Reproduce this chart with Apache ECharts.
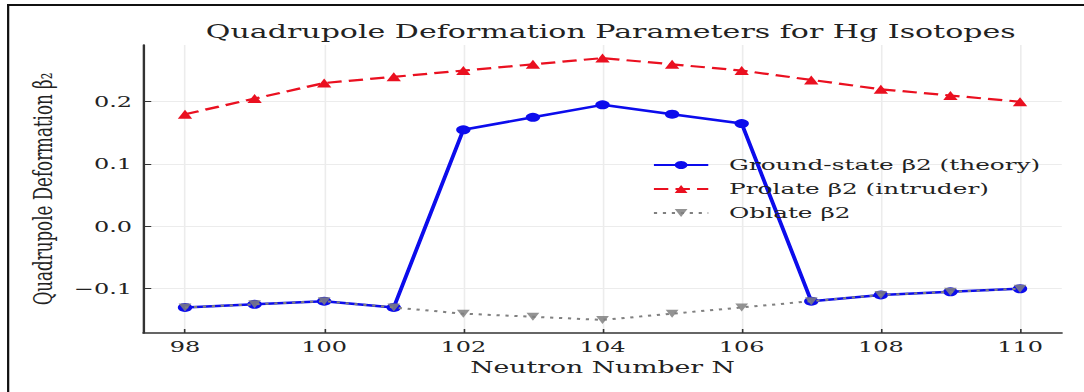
<!DOCTYPE html>
<html>
<head>
<meta charset="utf-8">
<script src="https://cdn.jsdelivr.net/npm/echarts@6/dist/echarts.min.js"></script>
<style>
  html, body { margin: 0; padding: 0; background: #fff; overflow: hidden; }
  /* the figure is laid out at a narrower width and widened horizontally */
  #chart { width: 678px; height: 392px; transform: scaleX(1.59882); transform-origin: 0 0; }
</style>
</head>
<body>
<div id="chart"></div>
<script>
// Neutron numbers of the Hg isotopes
const neutronN = [98, 99, 100, 101, 102, 103, 104, 105, 106, 107, 108, 109, 110];
// Ground-state quadrupole deformation (theory)
const groundBeta2 = [-0.13, -0.125, -0.12, -0.13, 0.155, 0.175, 0.195, 0.18, 0.165, -0.12, -0.11, -0.105, -0.10];
// Prolate (intruder) configuration
const prolateBeta2 = [0.18, 0.205, 0.23, 0.24, 0.25, 0.26, 0.27, 0.26, 0.25, 0.235, 0.22, 0.21, 0.20];
// Oblate configuration
const oblateBeta2 = [-0.13, -0.125, -0.12, -0.13, -0.14, -0.145, -0.15, -0.14, -0.13, -0.12, -0.11, -0.105, -0.10];
// Tick positions
const xTicks = [98, 100, 102, 104, 106, 108, 110];
const yTicks = [-0.1, 0.0, 0.1, 0.2];
const seriesNames = ['Ground-state β2 (theory)', 'Prolate β2 (intruder)', 'Oblate β2'];

const FONT = 'DejaVu Serif';
const pairs = ys => neutronN.map((n, i) => [n, ys[i]]);

const chart = echarts.init(document.getElementById('chart'), null, { renderer: 'svg' });

chart.setOption({
  animation: false,
  backgroundColor: '#ffffff',
  title: {
    text: 'Quadrupole Deformation Parameters for Hg Isotopes',
    left: 377, top: 17, textAlign: 'center',
    textStyle: { fontFamily: FONT, fontSize: 18.8, fontWeight: 'normal', color: '#222' }
  },
  graphic: [
    { type: 'rect', shape: { x: 4.4, y: 4, width: 1.4, height: 400 }, style: { fill: '#111' }, silent: true },
    { type: 'rect', shape: { x: 4.4, y: 4, width: 700, height: 2 }, style: { fill: '#111' }, silent: true }
  ],
  legend: {
    orient: 'vertical',
    left: 403, top: 152,
    itemWidth: 34, itemHeight: 10, itemGap: 8,
    data: seriesNames,
    textStyle: { fontFamily: FONT, fontSize: 15.5, color: '#222', padding: [0, 0, 0, 8] }
  },
  grid: { left: 89.6, right: 13.9, top: 45, bottom: 59, containLabel: false },
  xAxis: {
    type: 'value',
    min: 97.4, max: 110.6,
    name: 'Neutron Number N',
    nameLocation: 'middle', nameGap: 25,
    nameTextStyle: { fontFamily: FONT, fontSize: 16.7, color: '#222' },
    axisLine: { show: true, onZero: false, lineStyle: { color: '#333', width: 1.5 } },
    axisTick: { show: true, inside: true, length: 4, customValues: xTicks, lineStyle: { color: '#333', width: 1 } },
    axisLabel: { customValues: xTicks, margin: 6, fontFamily: FONT, fontSize: 15, color: '#222',
                 formatter: v => String(v) },
    splitLine: { show: true, lineStyle: { color: '#ececec', width: 1 } }
  },
  yAxis: {
    type: 'value',
    min: -0.171, max: 0.291,
    name: 'Quadrupole Deformation β₂',
    nameLocation: 'middle', nameGap: 50,
    nameTextStyle: { fontFamily: FONT, fontSize: 16.7, color: '#222' },
    axisLine: { show: true, onZero: false, lineStyle: { color: '#333', width: 1.5 } },
    axisTick: { show: true, inside: true, length: 5, customValues: yTicks, lineStyle: { color: '#333', width: 1 } },
    axisLabel: { customValues: yTicks, margin: 7, fontFamily: FONT, fontSize: 15, color: '#222',
                 formatter: v => v.toFixed(1).replace('-', '\u2212') },
    splitLine: { show: true, lineStyle: { color: '#ececec', width: 1 } }
  },
  series: [
    {
      name: seriesNames[0], type: 'line', data: pairs(groundBeta2), z: 2,
      symbol: 'circle', symbolSize: 9,
      lineStyle: { color: '#0c0cec', width: 2.5 },
      itemStyle: { color: '#0c0cec' }
    },
    {
      name: seriesNames[1], type: 'line', data: pairs(prolateBeta2), z: 3,
      symbol: 'triangle', symbolSize: 9,
      lineStyle: { color: '#ea1020', width: 2.2, type: [9, 4.5] },
      itemStyle: { color: '#ea1020' }
    },
    {
      name: seriesNames[2], type: 'line', data: pairs(oblateBeta2), z: 4,
      symbol: 'triangle', symbolRotate: 180, symbolSize: 8,
      lineStyle: { color: '#808080', width: 2, type: [2, 3.6] },
      itemStyle: { color: '#808080', opacity: 0.85 }
    }
  ]
});
</script>
</body>
</html>
